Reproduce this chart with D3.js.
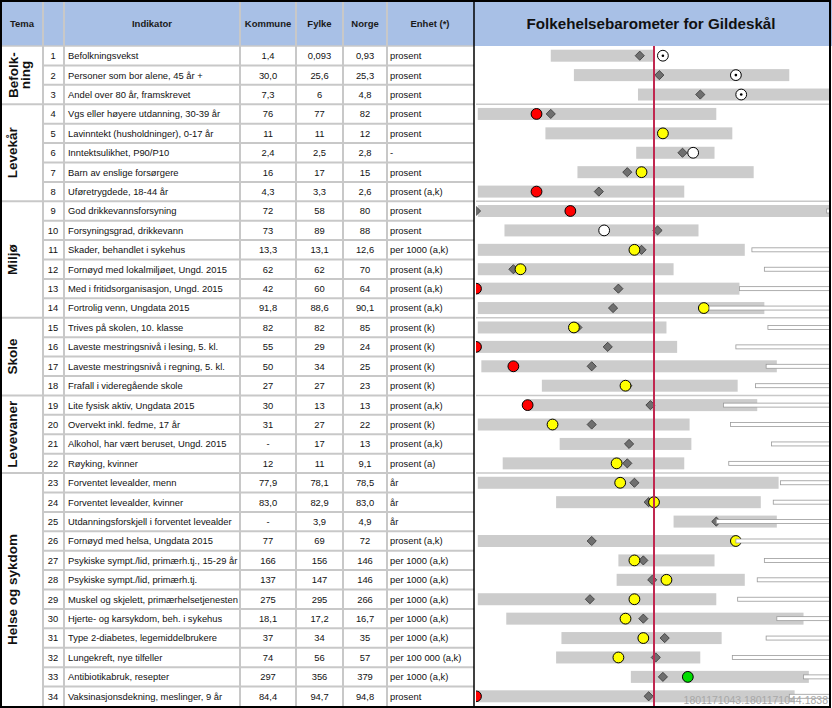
<!DOCTYPE html>
<html><head><meta charset="utf-8">
<script src="https://cdn.jsdelivr.net/npm/d3@7/dist/d3.min.js"></script>
<style>body{margin:0;background:#fff}svg{display:block;font-family:"Liberation Sans",Arial,sans-serif}</style>
</head><body>
<svg id="c" width="832" height="708"></svg>
<script>
// ---------- DATA ----------
const title = "Folkehelsebarometer for Gildeskål";
const headers = ["Tema", "", "Indikator", "Kommune", "Fylke", "Norge", "Enhet (*)"];
const themeNames = [["Befolk-", "ning"], ["Levekår"], ["Miljø"], ["Skole"], ["Levevaner"], ["Helse og sykdom"]];
const themeSizes = [3, 5, 6, 4, 4, 12];
const indicators = [
  "Befolkningsvekst", "Personer som bor alene, 45 år +", "Andel over 80 år, framskrevet",
  "Vgs eller høyere utdanning, 30-39 år", "Lavinntekt (husholdninger), 0-17 år", "Inntektsulikhet, P90/P10",
  "Barn av enslige forsørgere", "Uføretrygdede, 18-44 år", "God drikkevannsforsyning",
  "Forsyningsgrad, drikkevann", "Skader, behandlet i sykehus", "Fornøyd med lokalmiljøet, Ungd. 2015",
  "Med i fritidsorganisasjon, Ungd. 2015", "Fortrolig venn, Ungdata 2015", "Trives på skolen, 10. klasse",
  "Laveste mestringsnivå i lesing, 5. kl.", "Laveste mestringsnivå i regning, 5. kl.", "Frafall i videregående skole",
  "Lite fysisk aktiv, Ungdata 2015", "Overvekt inkl. fedme, 17 år", "Alkohol, har vært beruset, Ungd. 2015",
  "Røyking, kvinner", "Forventet levealder, menn", "Forventet levealder, kvinner",
  "Utdanningsforskjell i forventet levealder", "Fornøyd med helsa, Ungdata 2015", "Psykiske sympt./lid, primærh.tj., 15-29 år",
  "Psykiske sympt./lid, primærh.tj.", "Muskel og skjelett, primærhelsetjenesten", "Hjerte- og karsykdom, beh. i sykehus",
  "Type 2-diabetes, legemiddelbrukere", "Lungekreft, nye tilfeller", "Antibiotikabruk, resepter",
  "Vaksinasjonsdekning, meslinger, 9 år"
];
const kommune = ["1,4","30,0","7,3","76","11","2,4","16","4,3","72","73","13,3","62","42","91,8","82","55","50","27","30","31","-","12","77,9","83,0","-","77","166","137","275","18,1","37","74","297","84,4"];
const fylke = ["0,093","25,6","6","77","11","2,5","17","3,3","58","89","13,1","62","60","88,6","82","29","34","27","13","27","17","11","78,1","82,9","3,9","69","156","147","295","17,2","34","56","356","94,7"];
const norge = ["0,93","25,3","4,8","82","12","2,8","15","2,6","80","88","12,6","70","64","90,1","85","24","25","23","13","22","13","9,1","78,5","83,0","4,9","72","146","146","266","16,7","35","57","379","94,8"];
const units = ["prosent","prosent","prosent","prosent","prosent","-","prosent","prosent (a,k)","prosent","prosent","per 1000 (a,k)","prosent (a,k)","prosent (a,k)","prosent (a,k)","prosent (k)","prosent (k)","prosent (k)","prosent (k)","prosent (a,k)","prosent (k)","prosent (a,k)","prosent (a)","år","år","år","prosent (a,k)","per 1000 (a,k)","per 1000 (a,k)","per 1000 (a,k)","per 1000 (a,k)","per 1000 (a,k)","per 100 000 (a,k)","per 1000 (a,k)","prosent"];
// standardised chart values (Norway = 0)
const rangeLow  = [-58,-45,-9,-99,-61,-10,-43,-99,-99,-84,-99,-99,-99,-99,-99,-99,-97,-63,-70,-99,-53,-85,-99,-55,11,-99,-20,-21,-99,-83,-52,-55,-13,-99];
const rangeHigh = [0,76,99,35,44,34,56,17,99,25,51,11,48,62,7,13,69,47,58,20,21,17,70,60,69,46,34,51,35,84,38,26,87,79];
const fylkeIdx  = [-8,3,26,-58,5,16,-15,-31,-100,2,-7,-79,-20,-23,-43,-26,-35,-15,-2,-35,-14,-15,-11,-3,35,-35,-6,-1,-36,-6,6,1,5,-3];
const kommuneIdx= [5,46,49,-66,5,22,-7,-66,-47,-28,-11,-75,-100,28,-45,-100,-79,-16,-71,-57,null,-21,-19,0,null,46,-11,7,-11,-16,-6,-20,19,-100];
const kommuneClass = ["dot","dot","dot","red","yellow","white","yellow","red","red","white","yellow","yellow","red","yellow","yellow","red","red","yellow","red","yellow",null,"yellow","yellow","yellow",null,"yellow","yellow","yellow","yellow","yellow","yellow","yellow","green","red"];
const tailStart = [null,null,null,null,null,null,null,null,97,null,55,62,48,31,64,46,63,57,39,43,66,42,71,67,35,46,62,58,47,69,63,44,84,76];
const footer = "1801171043.1801171044.1838";

// ---------- LAYOUT ----------
const W = 832, H = 708, yTop = 46, yBottom = 706;
const colX = [2, 43, 64, 240, 296, 343, 387, 474];
const chartL = 475, chartR = 830;
const gridCol = "#c8c8c8", headBg = "#a8c0e6";
const fill = {red:"#ff0000", yellow:"#ffff00", green:"#00dd00", white:"#ffffff", dot:"#ffffff"};

const svg = d3.select("#c");
const n = indicators.length;
const y = d3.scaleBand().domain(d3.range(n)).range([yTop, yBottom]);
const x = d3.scaleLinear().domain([-100, 100]).range([476, 832]);

// header background
svg.append("rect").attr("x", 0).attr("y", 0).attr("width", W).attr("height", yTop).attr("fill", headBg);

// group boundaries
const groupStarts = d3.cumsum([0].concat(themeSizes)).slice(0, -1);
const groupEnds = Array.from(d3.cumsum(themeSizes));

// table grid: row lines
const rowLines = d3.range(1, n);
svg.append("g").selectAll("line").data(rowLines).join("line")
  .attr("x1", d => groupEnds.includes(d) ? colX[0] : colX[1]).attr("x2", colX[7])
  .attr("y1", d => y(d)).attr("y2", d => y(d))
  .attr("stroke", gridCol).attr("stroke-width", 2);
svg.append("line").attr("x1", 0).attr("x2", colX[7]).attr("y1", yTop).attr("y2", yTop).attr("stroke", gridCol).attr("stroke-width", 1.5);
// vertical lines
svg.append("g").selectAll("line").data(colX.slice(1, 7)).join("line")
  .attr("x1", d => d).attr("x2", d => d).attr("y1", 0).attr("y2", H)
  .attr("stroke", gridCol).attr("stroke-width", 2);

// headers
const headCenters = [22, 53, 152, 268, 319.5, 365, 430];
svg.append("g").selectAll("text").data(headers).join("text")
  .attr("x", (d, i) => headCenters[i]).attr("y", 27)
  .attr("text-anchor", "middle").attr("font-size", 9.5).attr("font-weight", "bold").attr("fill", "#1a1a1a")
  .text(d => d);

// table body
const body = svg.append("g").attr("font-size", 9.4).attr("fill", "#111");
const rowsG = body.selectAll("g").data(d3.range(n)).join("g")
  .attr("transform", i => `translate(0,${y(i) + y.bandwidth() / 2 + 3.4})`);
rowsG.append("text").attr("x", 53).attr("text-anchor", "middle").text(i => i + 1);
rowsG.append("text").attr("x", 68).text(i => indicators[i]);
rowsG.append("text").attr("x", 268).attr("text-anchor", "middle").text(i => kommune[i]);
rowsG.append("text").attr("x", 319.5).attr("text-anchor", "middle").text(i => fylke[i]);
rowsG.append("text").attr("x", 365).attr("text-anchor", "middle").text(i => norge[i]);
rowsG.append("text").attr("x", 390).text(i => units[i]);

// theme labels
themeNames.forEach((lines, g) => {
  const yc = (y(groupStarts[g]) + y(groupEnds[g] - 1) + y.bandwidth()) / 2;
  const base = lines.length === 1 ? 17 : 18;
  lines.forEach((t, k) => {
    svg.append("text").attr("transform", `translate(${base + k * 12},${yc}) rotate(-90)`)
      .attr("text-anchor", "middle").attr("font-size", 13.5).attr("font-weight", "bold").attr("fill", "#111")
      .text(t);
  });
});

// chart title
svg.append("text").attr("x", 651).attr("y", 29).attr("text-anchor", "middle")
  .attr("font-size", 15.2).attr("font-weight", "bold").attr("fill", "#111").text(title);

// chart area
svg.append("clipPath").attr("id", "clip").append("rect")
  .attr("x", chartL + 1).attr("y", yTop).attr("width", chartR - chartL - 1).attr("height", yBottom - yTop);
const chart = svg.append("g").attr("clip-path", "url(#clip)");

// group separators in chart
chart.selectAll("line.sep").data(groupEnds.slice(0, -1)).join("line").attr("class", "sep")
  .attr("x1", chartL).attr("x2", chartR).attr("y1", d => y(d)).attr("y2", d => y(d))
  .attr("stroke", gridCol).attr("stroke-width", 1.5);

const cy = i => y(i) + y.bandwidth() / 2;
const idx = d3.range(n);
// gray range bars
chart.selectAll("rect.rng").data(idx).join("rect").attr("class", "rng")
  .attr("x", i => x(rangeLow[i])).attr("width", i => x(rangeHigh[i]) - x(rangeLow[i]))
  .attr("y", i => cy(i) - 6).attr("height", 12).attr("fill", "#cccccc");
// diamonds (fylke)
const diamond = d3.symbol(d3.symbolSquare, 42);
chart.selectAll("path.fy").data(idx).join("path").attr("class", "fy")
  .attr("d", diamond).attr("transform", i => `translate(${x(fylkeIdx[i])},${cy(i)}) rotate(45)`)
  .attr("fill", "#6f6f6f").attr("stroke", "#3a3a3a").attr("stroke-width", 0.8);
// circles (kommune)
const kIdx = idx.filter(i => kommuneIdx[i] !== null);
chart.selectAll("circle.ko").data(kIdx).join("circle").attr("class", "ko")
  .attr("cx", i => x(kommuneIdx[i])).attr("cy", cy).attr("r", 5.4)
  .attr("fill", i => fill[kommuneClass[i]]).attr("stroke", "#000").attr("stroke-width", 1);
chart.selectAll("circle.dot").data(kIdx.filter(i => kommuneClass[i] === "dot")).join("circle").attr("class", "dot")
  .attr("cx", i => x(kommuneIdx[i])).attr("cy", cy).attr("r", 1.3).attr("fill", "#000");
// Norway reference line
chart.append("line").attr("x1", x(0)).attr("x2", x(0)).attr("y1", yTop).attr("y2", yBottom)
  .attr("stroke", "#c02850").attr("stroke-width", 2);
// white tail bars
const tIdx = idx.filter(i => tailStart[i] !== null);
chart.selectAll("rect.tail").data(tIdx).join("rect").attr("class", "tail")
  .attr("x", i => x(tailStart[i])).attr("width", i => x(100) - x(tailStart[i]) + 5)
  .attr("y", i => cy(i) - 2).attr("height", 4)
  .attr("fill", "#fff").attr("stroke", "#9a9a9a").attr("stroke-width", 0.8);

// footer
svg.append("text").attr("x", 828).attr("y", 704).attr("text-anchor", "end")
  .attr("font-size", 10.5).attr("fill", "#a8a8a8").text(footer);

// borders
svg.append("line").attr("x1", colX[7]).attr("x2", colX[7]).attr("y1", 0).attr("y2", H)
  .attr("stroke", "#000").attr("stroke-width", 1.5);
svg.append("rect").attr("x", 1).attr("y", 1).attr("width", 829).attr("height", 706)
  .attr("fill", "none").attr("stroke", "#000").attr("stroke-width", 2);
</script>
</body></html>
